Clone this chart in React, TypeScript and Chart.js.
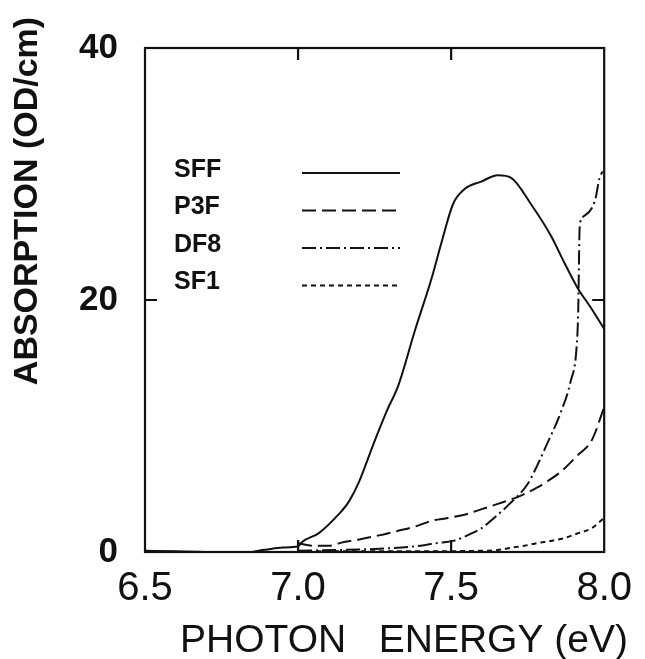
import React, { useEffect, useRef } from "react";
import { Chart, registerables } from "chart.js";

Chart.register(...registerables);

const seriesNames = ["SFF", "P3F", "DF8", "SF1"];

const sffEnergy = [6.5, 6.6, 6.7, 6.8, 6.85, 6.9, 6.95, 7.0, 7.013, 7.068, 7.133, 7.166, 7.198, 7.25, 7.29, 7.328, 7.382, 7.436, 7.469, 7.506, 7.544, 7.598, 7.653, 7.696, 7.761, 7.826, 7.869, 7.912, 7.956, 8.0];
const sffAbs = [0.1, 0.05, 0.0, -0.35, 0.0, 0.2, 0.35, 0.45, 0.8, 1.5, 3.0, 4.0, 5.5, 8.8, 11.2, 13.25, 17.6, 21.7, 24.6, 27.6, 28.8, 29.4, 29.9, 29.7, 27.6, 25.1, 23.0, 21.0, 19.4, 17.7];

const p3fEnergy = [7.0, 7.05, 7.1, 7.15, 7.2, 7.26, 7.33, 7.38, 7.44, 7.49, 7.55, 7.6, 7.65, 7.73, 7.78, 7.82, 7.86, 7.91, 7.96, 8.0];
const p3fAbs = [0.7, 0.5, 0.5, 0.8, 1.0, 1.3, 1.7, 2.0, 2.5, 2.7, 3.0, 3.4, 3.8, 4.5, 5.1, 5.7, 6.4, 7.6, 8.9, 11.5];

const df8Energy = [7.0, 7.2, 7.3, 7.4, 7.45, 7.51, 7.56, 7.6, 7.64, 7.69, 7.75, 7.78, 7.81, 7.86, 7.89, 7.91, 7.915, 7.92, 7.93, 7.97, 7.985, 7.995];
const df8Abs = [0.1, 0.2, 0.3, 0.5, 0.7, 0.9, 1.4, 1.9, 2.7, 3.8, 5.4, 6.8, 8.4, 11.2, 13.5, 16.3, 19.0, 25.8, 26.6, 27.9, 29.7, 30.2];

const sf1Energy = [7.0, 7.3, 7.6, 7.65, 7.7, 7.74, 7.78, 7.83, 7.87, 7.91, 7.96, 7.99, 8.0];
const sf1Abs = [0.05, 0.05, 0.1, 0.15, 0.35, 0.5, 0.7, 0.9, 1.1, 1.45, 1.9, 2.5, 2.7];

const xTicks = [6.5, 7.0, 7.5, 8.0];
const yTicks = [0, 20, 40];
const innerXTicks = [7.0, 7.5];
const innerYTicks = [20];

const xTitle = "PHOTON   ENERGY (eV)";
const yTitle = "ABSORPTION (OD/cm)";

const FONT = "'Liberation Sans', Arial, Helvetica, sans-serif";
const INK = "#111";

const dashes = [[], [14, 6], [14, 4, 2, 4], [5, 4]];

function pts(xs: number[], ys: number[]) {
  return xs.map((x, i) => ({ x, y: ys[i] }));
}

const decorPlugin = {
  id: "decor",
  afterDraw(chart: any) {
    const { ctx, chartArea } = chart;
    const { left, right, top, bottom } = chartArea;
    const xs = chart.scales.x;
    const ys = chart.scales.y;
    ctx.save();
    // frame
    ctx.strokeStyle = INK;
    ctx.lineWidth = 2.2;
    ctx.setLineDash([]);
    ctx.strokeRect(left, top, right - left, bottom - top);
    // inner ticks
    const tl = 12;
    ctx.beginPath();
    innerXTicks.forEach((v) => {
      const px = xs.getPixelForValue(v);
      ctx.moveTo(px, top);
      ctx.lineTo(px, top + tl);
      ctx.moveTo(px, bottom);
      ctx.lineTo(px, bottom - tl);
    });
    innerYTicks.forEach((v) => {
      const py = ys.getPixelForValue(v);
      ctx.moveTo(left, py);
      ctx.lineTo(left + tl, py);
      ctx.moveTo(right, py);
      ctx.lineTo(right - tl, py);
    });
    ctx.stroke();

    // legend
    ctx.fillStyle = INK;
    ctx.font = `bold 25px ${FONT}`;
    ctx.textAlign = "left";
    ctx.textBaseline = "middle";
    const lx = left + 29;
    const lineX0 = left + 157;
    const lineX1 = left + 255;
    const ly0 = top + 122;
    const gap = 37.5;
    seriesNames.forEach((name, i) => {
      const y = ly0 + i * gap;
      ctx.fillText(name, lx, y);
      ctx.beginPath();
      ctx.lineWidth = 1.8;
      ctx.setLineDash(dashes[i]);
      ctx.moveTo(lineX0, y + 3);
      ctx.lineTo(lineX1, y + 3);
      ctx.stroke();
    });
    ctx.setLineDash([]);

    // axis titles
    ctx.font = `39px ${FONT}`;
    ctx.textAlign = "center";
    ctx.textBaseline = "middle";
    ctx.fillText(xTitle, 404, 641);

    ctx.save();
    ctx.translate(28, 201);
    ctx.rotate(-Math.PI / 2);
    ctx.font = `bold 34px ${FONT}`;
    ctx.fillText(yTitle, 0, 0);
    ctx.restore();

    ctx.restore();
  },
};

export default function App() {
  const ref = useRef<HTMLCanvasElement | null>(null);

  useEffect(() => {
    if (!ref.current) return;
    const common = {
      borderColor: INK,
      borderWidth: 2,
      pointRadius: 0,
      fill: false,
      cubicInterpolationMode: "monotone" as const,
    };
    const chart = new Chart(ref.current, {
      type: "line",
      data: {
        datasets: [
          { ...common, label: seriesNames[0], data: pts(sffEnergy, sffAbs), borderDash: dashes[0] },
          { ...common, label: seriesNames[1], data: pts(p3fEnergy, p3fAbs), borderDash: dashes[1] },
          { ...common, label: seriesNames[2], data: pts(df8Energy, df8Abs), borderDash: dashes[2] },
          { ...common, label: seriesNames[3], data: pts(sf1Energy, sf1Abs), borderDash: dashes[3] },
        ],
      },
      options: {
        animation: false,
        responsive: false,
        maintainAspectRatio: false,
        layout: { padding: { top: 35, right: 38, left: 0, bottom: 0 } },
        plugins: {
          legend: { display: false },
          tooltip: { enabled: false },
          title: { display: false },
        },
        scales: {
          x: {
            type: "linear",
            min: 6.5,
            max: 8.0,
            afterBuildTicks: (s: any) => {
              s.ticks = xTicks.map((v) => ({ value: v }));
            },
            afterFit: (s: any) => {
              s.height = 107;
            },
            ticks: {
              callback: (v: any) => Number(v).toFixed(1),
              font: { size: 40, family: FONT },
              color: INK,
              padding: 13,
              maxRotation: 0,
              autoSkip: false,
            },
            grid: { display: false, drawTicks: false },
            border: { display: false },
          },
          y: {
            type: "linear",
            min: 0,
            max: 40,
            afterBuildTicks: (s: any) => {
              s.ticks = yTicks.map((v) => ({ value: v }));
            },
            afterFit: (s: any) => {
              s.width = 145;
            },
            ticks: {
              font: { size: 35, family: FONT, weight: "bold" },
              color: INK,
              padding: 27,
              autoSkip: false,
            },
            grid: { display: false, drawTicks: false },
            border: { display: false },
          },
        },
      },
      plugins: [decorPlugin],
    });
    return () => chart.destroy();
  }, []);

  return (
    <div style={{ position: "absolute", left: 0, top: 0, width: 645, height: 659, background: "#fff" }}>
      <canvas ref={ref} width={645} height={659} />
    </div>
  );
}
